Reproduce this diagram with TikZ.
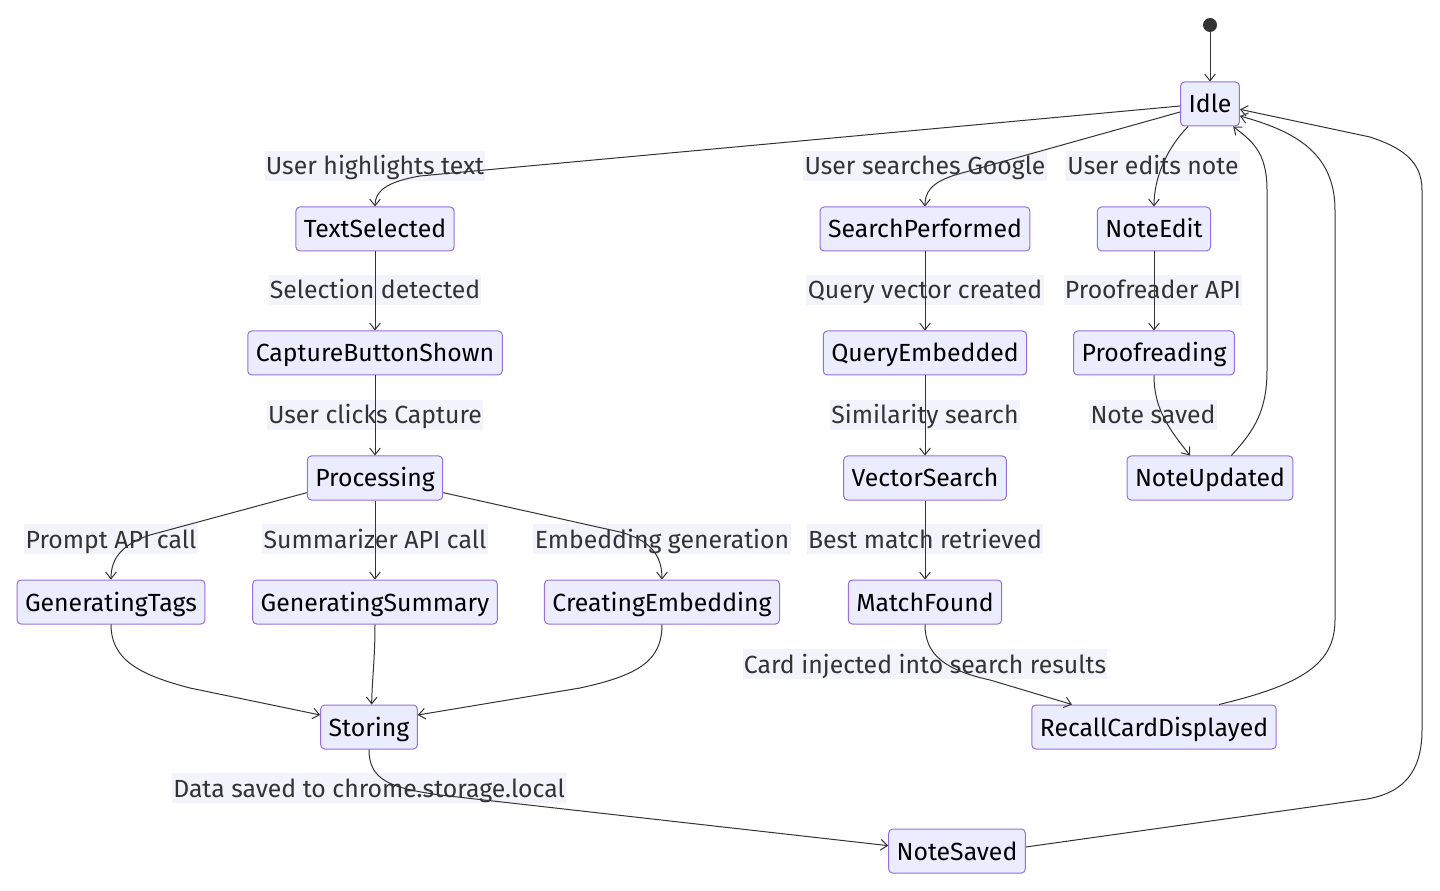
\documentclass[tikz,border=0pt]{standalone}
\usepackage{fontspec}
\setmainfont{Fira Sans}
\usetikzlibrary{shapes}
\usetikzlibrary{arrows,arrows.meta}
\definecolor{statefill}{HTML}{ECECFF}
\definecolor{stateline}{HTML}{9370DB}
\definecolor{edgeline}{HTML}{333333}
\definecolor{labelfill}{HTML}{F3F3FB}
\begin{document}
\begin{tikzpicture}[x=0.75pt,y=-0.75pt]
			\tikzstyle{state}=[rectangle,rounded corners=3pt,draw=stateline,fill=statefill,line width=0.75pt,minimum height=33pt,inner xsep=6pt,text height=15pt,text depth=1.5pt,font=\fontsize{18.6pt}{22pt}\selectfont,text=black]
			\tikzstyle{lbl}=[rectangle,fill=labelfill,inner xsep=1pt,inner ysep=3pt,text height=15pt,text depth=1.5pt,font=\fontsize{18.6pt}{22pt}\selectfont,text=edgeline]
			\tikzstyle{trans}=[->,>={Straight Barb[length=5pt,width=8pt]},draw=edgeline,line width=0.75pt]
			\useasboundingbox (0,0) rectangle (1440,891);
			
			\node[circle,fill=edgeline,inner sep=0pt,minimum size=10.5pt] (start) at (1210,25) {};
			\node[state] (idle) at (1210,104) {Idle};
			\node[state] (ts) at (375,229) {TextSelected};
			\node[state] (sp) at (925,229) {SearchPerformed};
			\node[state] (ne) at (1154,229) {NoteEdit};
			\node[state] (cb) at (375,353) {CaptureButtonShown};
			\node[state] (qe) at (925,353) {QueryEmbedded};
			\node[state] (pr) at (1154,353) {Proofreading};
			\node[state] (pc) at (375,478) {Processing};
			\node[state] (vs) at (925,478) {VectorSearch};
			\node[state] (nu) at (1210,478) {NoteUpdated};
			\node[state] (gt) at (111,602) {GeneratingTags};
			\node[state] (gs) at (375,602) {GeneratingSummary};
			\node[state] (ce) at (662,602) {CreatingEmbedding};
			\node[state] (mf) at (925,602) {MatchFound};
			\node[state] (st) at (369,727) {Storing};
			\node[state] (rc) at (1154,727) {RecallCardDisplayed};
			\node[state] (ns) at (957,851) {NoteSaved};
			
			\node[lbl] (l1) at (375,166) {User highlights text};
			\node[lbl] (l2) at (925,166) {User searches Google};
			\node[lbl] (l3) at (1153,166) {User edits note};
			\node[lbl] (l4) at (375,290) {Selection detected};
			\node[lbl] (l5) at (925,290) {Query vector created};
			\node[lbl] (l6) at (1153,290) {Proofreader API};
			\node[lbl] (l7) at (375,415) {User clicks Capture};
			\node[lbl] (l8) at (925,415) {Similarity search};
			\node[lbl] (l9) at (1153,415) {Note saved};
			\node[lbl] (l10) at (111,539) {Prompt API call};
			\node[lbl] (l11) at (375,539) {Summarizer API call};
			\node[lbl] (l12) at (662,539) {Embedding generation};
			\node[lbl] (l13) at (925,539) {Best match retrieved};
			\node[lbl] (l14) at (925,664) {Card injected into search results};
			\node[lbl] (l15) at (369,788) {Data saved to chrome.storage.local};
			
			\draw[trans] (start) -- (idle);
			\draw[trans] ([yshift=-1.5pt]idle.west) -- (420,176) .. controls (385,182) and (375,192) .. (ts.north);
			\draw[trans] ([yshift=-6pt]idle.west) -- (955,175) .. controls (930,183) and (925,193) .. (sp.north);
			\draw[trans] ([xshift=6pt]idle.south west) .. controls (1165,150) and (1154,180) .. (ne.north);
			\draw[trans] (ts) -- (cb);
			\draw[trans] (cb) -- (pc);
			\draw[trans] (sp) -- (qe);
			\draw[trans] (qe) -- (vs);
			\draw[trans] (vs) -- (mf);
			\draw[trans] (ne) -- (pr);
			\draw[trans] (pr.south) .. controls (1154,410) and (1170,430) .. ([xshift=-15pt]nu.north);
			\draw[trans] ([xshift=16pt]nu.north) .. controls (1255,430) and (1267,410) .. (1267,370) -- (1267,190) .. controls (1267,150) and (1250,140) .. ([xshift=-5pt]idle.south east);
			\draw[trans] ([xshift=48.75pt]rc.north) .. controls (1300,685) and (1335,665) .. (1335,620) -- (1335,210) .. controls (1335,150) and (1290,130) .. ([yshift=-9pt]idle.east);
			\draw[trans] ([yshift=3pt]ns.east) -- (1360,800) .. controls (1405,795) and (1422,770) .. (1422,730) -- (1422,190) .. controls (1422,160) and (1400,147) .. (1370,137) -- ([yshift=-4pt]idle.east);
			\draw[trans] (mf.south) .. controls (925,655) and (945,670) .. (990,680) -- ([xshift=-61.5pt]rc.north);
			\draw[trans] ([yshift=-11pt]pc.west) -- (150,535) .. controls (120,545) and (111,560) .. (gt.north);
			\draw[trans] (pc) -- (gs);
			\draw[trans] ([yshift=-11pt]pc.east) -- (620,532) .. controls (650,540) and (662,555) .. (ce.north);
			\draw[trans] (gt.south) .. controls (111,660) and (140,675) .. (190,688) -- ([yshift=9pt]st.west);
			\draw[trans] (gs.south) .. controls (375,660) and (372,680) .. ([xshift=2pt]st.north);
			\draw[trans] (ce.south) .. controls (662,660) and (640,675) .. (580,688) -- ([yshift=9pt]st.east);
			\draw[trans] (st.south) .. controls (369,780) and (390,788) .. (440,795) -- ([yshift=4pt]ns.west);
			
			\end{tikzpicture}
\end{document}
